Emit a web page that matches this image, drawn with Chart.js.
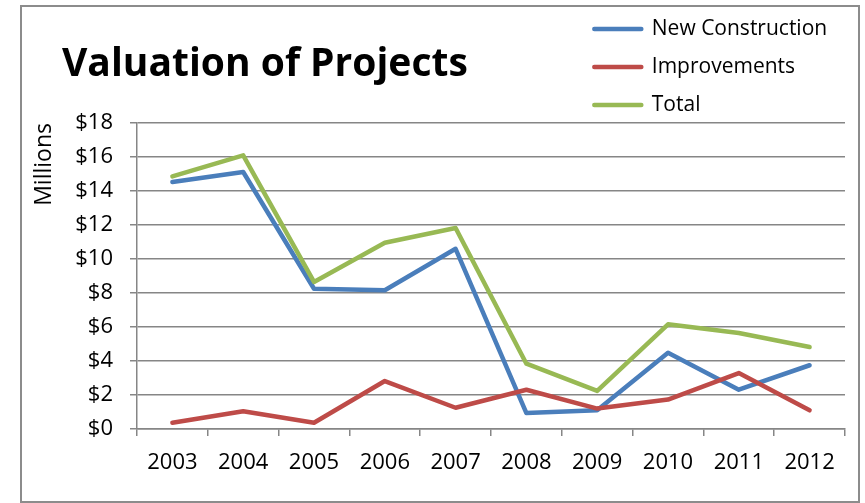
<!DOCTYPE html>
<html>
<head>
<meta charset="utf-8">
<title>Valuation of Projects</title>
<script src="https://cdn.jsdelivr.net/npm/chart.js@4.4.0/dist/chart.umd.min.js"></script>
<style>
  html, body { margin: 0; padding: 0; background: #fff; }
  #wrap { position: relative; width: 865px; height: 503px; }
  #frame { position: absolute; left: 20px; top: 5px; width: 836px; height: 494px; border: 2px solid #8c8c8c; pointer-events: none; }
</style>
</head>
<body>
<div id="wrap">
  <canvas id="myChart" width="865" height="503"></canvas>
  <div id="frame"></div>
</div>
<script>
/* Data (millions of dollars). */
const chartTitle = "Valuation of Projects";
const years = ["2003", "2004", "2005", "2006", "2007", "2008", "2009", "2010", "2011", "2012"];
const newConstruction = [14.53, 15.12, 8.25, 8.16, 10.6, 0.94, 1.1, 4.49, 2.31, 3.75];
const improvements = [0.37, 1.04, 0.37, 2.82, 1.25, 2.31, 1.2, 1.73, 3.29, 1.1];
const totals = [14.86, 16.1, 8.65, 10.96, 11.82, 3.84, 2.24, 6.16, 5.65, 4.82];
const yMax = 18;
const yStep = 2;
const yTitle = "Millions";

const ctx = document.getElementById("myChart");
const font = "Open Sans";

/* One line series, Excel style. */
const makeSeries = (label, data, color, order) => {
  return {
    label: label,
    data: data,
    borderColor: color,
    backgroundColor: color,
    borderWidth: 4.5,
    borderJoinStyle: "round",
    borderCapStyle: "round",
    pointRadius: 0,
    tension: 0,
    order: order,
  };
};

/* Legend items: thick line samples like the series. */
const legendLabels = (chart) => {
  const items = Chart.defaults.plugins.legend.labels.generateLabels(chart);
  items.forEach((it) => {
    const ds = chart.data.datasets[it.datasetIndex];
    it.strokeStyle = ds.borderColor;
    it.lineWidth = 4.5;
    it.lineCap = "round";
  });
  return items;
};

/* Moves the legend to the top right corner and draws the big title. */
const titleAndLegend = {
  id: "titleAndLegend",
  afterLayout: (chart) => {
    const lg = chart.legend;
    lg.left = 577.3;
    lg.top = 1.5;
    lg.right = lg.left + lg.width;
    lg.bottom = lg.top + lg.height;
  },
  afterDraw: (chart) => {
    const c = chart.ctx;
    c.save();
    c.font = `bold 39px "${font}"`;
    c.fillStyle = "#000";
    c.textAlign = "left";
    c.textBaseline = "alphabetic";
    c.fillText(chartTitle, 62, 76);
    c.restore();
  },
};

const config = {
  type: "line",
  data: {
    labels: years,
    datasets: [
      makeSeries("New Construction", newConstruction, "#4A7EBB", 2),
      makeSeries("Improvements", improvements, "#BE4B48", 1),
      makeSeries("Total", totals, "#98B954", 0),
    ],
  },
  options: {
    responsive: false,
    animation: false,
    devicePixelRatio: 1,
    layout: { padding: { left: 27, top: 123, right: 20, bottom: 0 } },
    plugins: {
      tooltip: { enabled: false },
      legend: {
        position: "chartArea",
        align: "start",
        labels: {
          usePointStyle: true,
          pointStyle: "line",
          pointStyleWidth: 47,
          padding: 17,
          color: "#000",
          font: { family: font, size: 21 },
          generateLabels: legendLabels,
          sort: (a, b) => a.datasetIndex - b.datasetIndex,
        },
      },
    },
    scales: {
      x: {
        offset: true,
        grid: { offset: true, drawOnChartArea: false, tickLength: 7, color: "#868686", lineWidth: 1.5 },
        border: { color: "#868686", width: 1.5 },
        ticks: { color: "#000", font: { family: font, size: 22 }, padding: 14, maxRotation: 0, autoSkip: false },
        afterFit: (s) => { s.height = 74; },
      },
      y: {
        min: 0,
        max: yMax,
        grid: { color: "#868686", lineWidth: 1.5, tickLength: 7 },
        border: { color: "#868686", width: 1.5 },
        ticks: {
          stepSize: yStep,
          padding: 17,
          color: "#000",
          font: { family: font, size: 22 },
          callback: (v) => "$" + v,
        },
        title: {
          display: true,
          text: yTitle,
          align: "end",
          color: "#000",
          font: { family: font, size: 23 },
          padding: { top: 4, bottom: 4 },
        },
        afterFit: (s) => { s.width = 110; },
      },
    },
  },
  plugins: [titleAndLegend],
};

const myChart = new Chart(ctx, config);
</script>
</body>
</html>
